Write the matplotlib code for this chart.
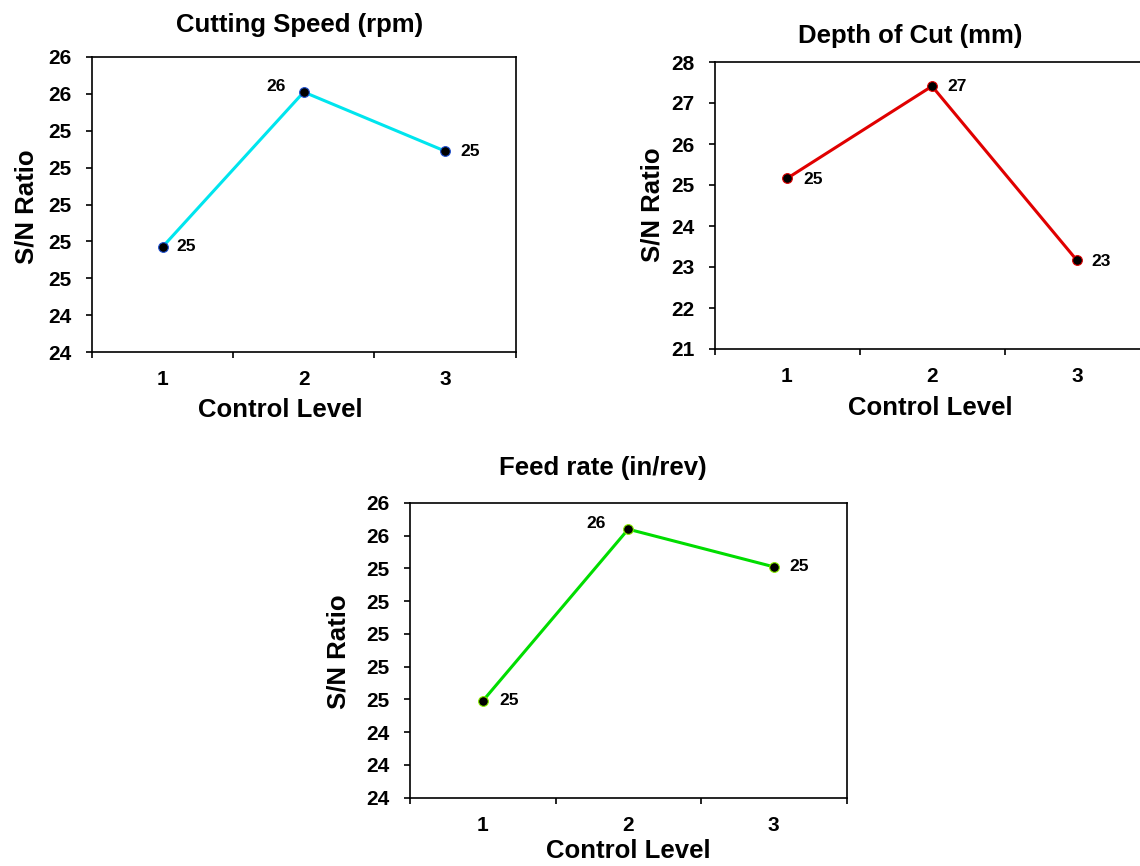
import matplotlib
matplotlib.use("Agg")
import matplotlib.pyplot as plt
from matplotlib.ticker import FixedLocator

plt.rcParams['font.family'] = ['Liberation Sans', 'DejaVu Sans']
plt.rcParams['font.weight'] = 'bold'

# ---- data ----
levels = [1, 2, 3]
level_labels = ["1", "2", "3"]

speed_sn = [24.77, 25.61, 25.29]
depth_sn = [25.16, 27.41, 23.16]
feed_sn = [24.59, 25.64, 25.41]

speed_yticks = [24.2, 24.4, 24.6, 24.8, 25.0, 25.2, 25.4, 25.6, 25.8]
speed_yticklabels = ["24", "24", "25", "25", "25", "25", "25", "26", "26"]
depth_yticks = [21, 22, 23, 24, 25, 26, 27, 28]
depth_yticklabels = ["21", "22", "23", "24", "25", "26", "27", "28"]
feed_yticks = [24.0, 24.2, 24.4, 24.6, 24.8, 25.0, 25.2, 25.4, 25.6, 25.8]
feed_yticklabels = ["24", "24", "24", "25", "25", "25", "25", "25", "26", "26"]

titles = ["Cutting Speed (rpm)", "Depth of Cut (mm)", "Feed rate (in/rev)"]
xlabel = "Control Level"
ylabel = "S/N Ratio"

W, H = 1140, 866
fig = plt.figure(figsize=(W / 100, H / 100), dpi=100)


def px_axes(l, t, r, b):
    return fig.add_axes([l / W, 1 - b / H, (r - l) / W, (b - t) / H])


def style(ax, yticks, ylabels):
    ax.set_xlim(0.5, 3.5)
    ax.set_ylim(yticks[0], yticks[-1])
    ax.set_xticks(levels)
    ax.set_xticklabels(level_labels)
    ax.xaxis.set_minor_locator(FixedLocator([0.5, 1.5, 2.5, 3.5]))
    ax.tick_params(axis='x', which='major', length=0, pad=13, labelsize=15)
    ax.tick_params(axis='x', which='minor', length=4.5, width=1.2, direction='out')
    ax.set_yticks(yticks)
    ax.set_yticklabels(ylabels)
    ax.tick_params(axis='y', which='major', length=4.5, width=1.2, direction='out',
                   pad=10, labelsize=15)
    for sp in ax.spines.values():
        sp.set_linewidth(1.2)
        sp.set_color('black')
    for lab in ax.get_xticklabels() + ax.get_yticklabels():
        lab.set_fontweight('bold')


def plot_series(ax, vals, color, edge, offsets):
    ax.plot(levels, vals, color=color, lw=2.2, zorder=2, clip_on=False)
    ax.plot(levels, vals, ls='none', marker='o', ms=7, mfc='black', mec=edge,
            mew=0.8, zorder=3, clip_on=False)
    for x, v, (dx, dy, ha) in zip(levels, vals, offsets):
        ax.annotate(f"{v:.0f}", (x, v), xytext=(dx, dy), textcoords='offset points',
                    ha=ha, va='center', fontsize=12.5, fontweight='bold')


# Cutting speed
ax1 = px_axes(92, 57, 515.5, 352)
style(ax1, speed_yticks, speed_yticklabels)
plot_series(ax1, speed_sn, '#00E5EE', '#2050D0',
            [(10, 0, 'left'), (-13, 4, 'right'), (11, 0, 'left')])

# Depth of cut
ax2 = px_axes(714.5, 62, 1149.5, 349)
style(ax2, depth_yticks, depth_yticklabels)
plot_series(ax2, depth_sn, '#E00000', '#E00000',
            [(12, -1, 'left'), (11, 0, 'left'), (10, -1, 'left')])

# Feed rate
ax3 = px_axes(410, 503, 846.5, 797.5)
style(ax3, feed_yticks, feed_yticklabels)
plot_series(ax3, feed_sn, '#00DD00', '#88EE00',
            [(12, 0, 'left'), (-16, 4, 'right'), (11, 0, 'left')])

# titles and axis labels
fig.text(300 / W, 1 - 25 / H, titles[0], ha='center', va='center', fontsize=18.5, fontweight='bold')
fig.text(910 / W, 1 - 36 / H, titles[1], ha='center', va='center', fontsize=18.5, fontweight='bold')
fig.text(603 / W, 1 - 468 / H, titles[2], ha='center', va='center', fontsize=18.5, fontweight='bold')

fig.text(280 / W, 1 - 410 / H, xlabel, ha='center', va='center', fontsize=18.5, fontweight='bold')
fig.text(930 / W, 1 - 408 / H, xlabel, ha='center', va='center', fontsize=18.5, fontweight='bold')
fig.text(628 / W, 1 - 851 / H, xlabel, ha='center', va='center', fontsize=18.5, fontweight='bold')

fig.text(26 / W, 1 - 207 / H, ylabel, ha='center', va='center', rotation=90, fontsize=18.5, fontweight='bold')
fig.text(652 / W, 1 - 205 / H, ylabel, ha='center', va='center', rotation=90, fontsize=18.5, fontweight='bold')
fig.text(338 / W, 1 - 652 / H, ylabel, ha='center', va='center', rotation=90, fontsize=18.5, fontweight='bold')

fig.savefig("out.png", dpi=100, facecolor='white')
